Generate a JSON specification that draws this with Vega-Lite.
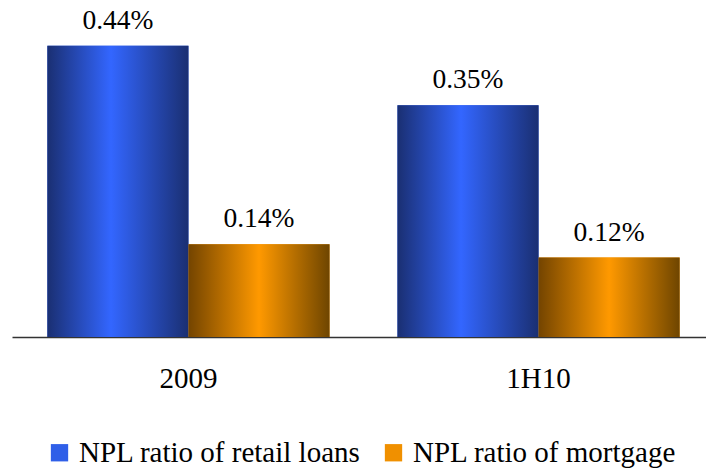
{
  "$schema": "https://vega.github.io/schema/vega-lite/v6.json",
  "autosize": "none",
  "width": 703,
  "height": 331,
  "padding": {"left": 12, "top": 6, "right": 0, "bottom": 132},
  "background": "white",
  "config": {"view": {"stroke": null}},
  "data": {"values": [
    {"period": "2009", "series": "NPL ratio of retail loans", "value": 0.0044},
    {"period": "2009", "series": "NPL ratio of mortgage", "value": 0.0014},
    {"period": "1H10", "series": "NPL ratio of retail loans", "value": 0.0035},
    {"period": "1H10", "series": "NPL ratio of mortgage", "value": 0.0012}
  ]},
  "encoding": {
    "x": {"field": "period", "type": "nominal", "sort": ["2009", "1H10"],
      "scale": {"paddingInner": 0.194, "paddingOuter": 0.101},
      "axis": {"title": null, "labelAngle": 0, "ticks": false, "domainColor": "#333333", "domainWidth": 1.5,
        "labelFont": "Liberation Serif", "labelFontSize": 29, "labelColor": "#000", "labelBaseline": "alphabetic", "labelPadding": 50}},
    "xOffset": {"field": "series", "type": "nominal", "sort": ["NPL ratio of retail loans", "NPL ratio of mortgage"], "scale": {"paddingInner": 0, "paddingOuter": 0}},
    "y": {"field": "value", "type": "quantitative", "scale": {"domain": [0, 0.005]}, "axis": null}
  },
  "layer": [
    {
      "mark": {"type": "bar"},
      "encoding": {
        "color": {
          "field": "series",
          "type": "nominal",
          "scale": {"domain": ["NPL ratio of retail loans", "NPL ratio of mortgage"], "range": ["#2f5fe8", "#f09000"]},
          "legend": {
            "title": null, "orient": "none", "direction": "horizontal", "legendX": 33, "legendY": 432, "padding": 0,
            "symbolType": "square", "symbolSize": 300, "symbolStrokeWidth": 0,
            "labelFont": "Liberation Serif", "labelFontSize": 29, "labelColor": "#000", "labelLimit": 400,
            "columnPadding": 18, "labelOffset": 5,
            "encode": {
              "symbols": {
                "update": {
                  "fill": [
                    {"test": "datum.value === 'NPL ratio of retail loans'", "value": {"gradient": "linear", "x1": 0, "y1": 0, "x2": 1, "y2": 0, "stops": [{"offset": 0, "color": "#1a2f72"}, {"offset": 0.45, "color": "#3366ff"}, {"offset": 1, "color": "#1a2f72"}]}},
                    {"value": {"gradient": "linear", "x1": 0, "y1": 0, "x2": 1, "y2": 0, "stops": [{"offset": 0, "color": "#734400"}, {"offset": 0.5, "color": "#ff9900"}, {"offset": 1, "color": "#6e4500"}]}}
                  ]
                }
              }
            }
          }
        }
      }
    },
    {
      "transform": [{"filter": "datum.series === 'NPL ratio of retail loans'"}],
      "mark": {"type": "bar", "fill": {"gradient": "linear", "x1": 0, "y1": 0, "x2": 1, "y2": 0, "stops": [{"offset": 0, "color": "#1a2f72"}, {"offset": 0.45, "color": "#3366ff"}, {"offset": 1, "color": "#1a2f72"}]}},
      "encoding": {}
    },
    {
      "transform": [{"filter": "datum.series === 'NPL ratio of mortgage'"}],
      "mark": {"type": "bar", "fill": {"gradient": "linear", "x1": 0, "y1": 0, "x2": 1, "y2": 0, "stops": [{"offset": 0, "color": "#734400"}, {"offset": 0.5, "color": "#ff9900"}, {"offset": 1, "color": "#6e4500"}]}},
      "encoding": {}
    },
    {
      "mark": {"type": "text", "baseline": "alphabetic", "dy": -17, "font": "Liberation Serif", "fontSize": 27.5, "color": "#000"},
      "encoding": {"text": {"field": "value", "type": "quantitative", "format": ".2%"}}
    }
  ]
}
